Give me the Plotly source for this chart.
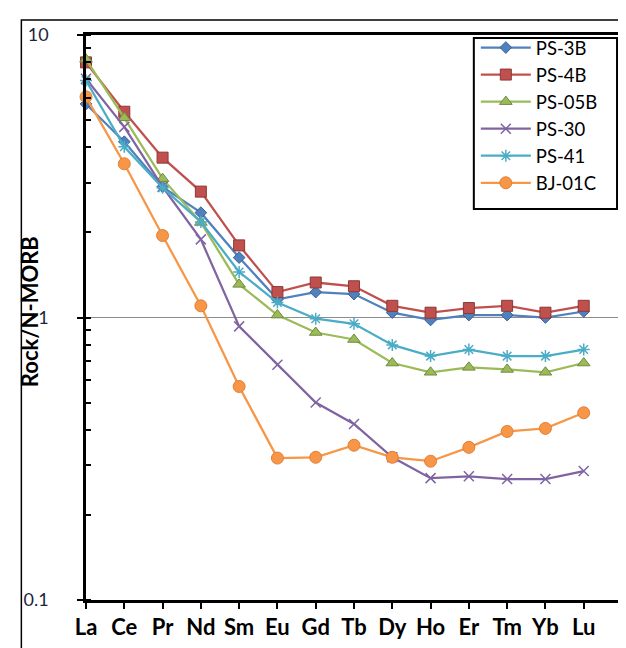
import plotly.graph_objects as go

elements = ["La", "Ce", "Pr", "Nd", "Sm", "Eu", "Gd", "Tb", "Dy", "Ho", "Er", "Tm", "Yb", "Lu"]

ps_3b = [5.7, 4.19, 2.9, 2.35, 1.63, 1.16, 1.23, 1.21, 1.04, 0.98, 1.02, 1.02, 1.0, 1.05]
ps_4b = [8.0, 5.35, 3.68, 2.79, 1.80, 1.23, 1.33, 1.29, 1.10, 1.04, 1.08, 1.10, 1.04, 1.10]
ps_05b = [8.2, 5.09, 3.1, 2.17, 1.31, 1.02, 0.885, 0.836, 0.69, 0.64, 0.666, 0.655, 0.64, 0.69]
ps_30 = [7.0, 4.73, 2.9, 1.89, 0.93, 0.68, 0.50, 0.42, 0.32, 0.27, 0.274, 0.268, 0.268, 0.286]
ps_41 = [6.9, 4.02, 2.88, 2.18, 1.45, 1.13, 0.99, 0.95, 0.80, 0.73, 0.77, 0.73, 0.73, 0.77]
bj_01c = [6.04, 3.5, 1.95, 1.1, 0.57, 0.318, 0.32, 0.353, 0.32, 0.31, 0.347, 0.395, 0.405, 0.46]

series = [
    ("PS-3B", ps_3b, "#4F81BD", "#3A6298", "diamond", 9),
    ("PS-4B", ps_4b, "#C0504D", "#8C3836", "square", 11),
    ("PS-05B", ps_05b, "#9BBB59", "#71893F", "triangle-up", 11),
    ("PS-30", ps_30, "#8064A2", "#8064A2", "x-thin-open", 10),
    ("PS-41", ps_41, "#4BACC6", "#4BACC6", "asterisk-open", 10),
    ("BJ-01C", bj_01c, "#F79646", "#E0803A", "circle", 12),
]

xpos = list(range(len(elements)))

# pixel helpers for the plot area (x: 78..617, y: 27..592)
def px_x(p):
    return (p - 78) / 539

def px_y(p):
    return (592 - p) / 565

fig = go.Figure()
for name, vals, col, edge, sym, size in series:
    fig.add_trace(go.Scatter(
        x=xpos, y=vals, name=name, mode="lines+markers",
        line=dict(color=col, width=2.25),
        marker=dict(symbol=sym, size=size, color=col,
                    line=dict(color=edge, width=1.5 if "open" in sym else 1)),
        cliponaxis=False,
    ))

fig.update_layout(
    width=626, height=648,
    margin=dict(l=78, r=9, t=27, b=56),
    paper_bgcolor="white", plot_bgcolor="white",
    font=dict(family="Lato, Liberation Sans, sans-serif", color="black"),
    showlegend=True,
    legend=dict(
        x=px_x(470), y=px_y(21), xanchor="left", yanchor="top",
        borderwidth=0, bgcolor="rgba(0,0,0,0)",
        font=dict(size=18.5, color="black"), itemwidth=50,
        tracegroupgap=0,
    ),
    xaxis=dict(
        range=[0, 14], tickmode="array", tickvals=list(range(15)),
        ticktext=elements + [""], ticks="outside", ticklen=6, tickwidth=2,
        tickcolor="black", showline=True, linecolor="black", linewidth=2.5,
        mirror=True, showgrid=False, zeroline=False,
        tickfont=dict(size=22, color="black", family="Lato, sans-serif", weight="bold"),
    ),
    yaxis=dict(
        type="log", range=[-1, 1], tickmode="array", tickvals=[0.1, 1, 10],
        ticktext=["0.1", "1", "10"], ticks="outside", ticklen=6, tickwidth=2,
        tickcolor="black", showline=True, linecolor="black", linewidth=2.5,
        mirror=True, showgrid=True, gridcolor="#8C8C8C", gridwidth=1.2,
        zeroline=False, ticklabelstandoff=25,
        tickfont=dict(size=18, color="#1F1F3F"),
        minor=dict(ticks="inside", ticklen=5, tickwidth=2, tickcolor="black",
                   dtick="D1", showgrid=False),
    ),
    annotations=[dict(
        text="<b>Rock/N-MORB</b>", textangle=-90, xref="paper", yref="paper",
        x=px_x(22), y=0.51, showarrow=False,
        font=dict(size=22, color="black"), xanchor="center", yanchor="middle",
    )],
    shapes=[
        dict(
            type="rect", xref="paper", yref="paper",
            x0=px_x(13), x1=1.2, y0=-0.3, y1=px_y(12),
            line=dict(color="black", width=1.5), fillcolor="rgba(0,0,0,0)",
            layer="below",
        ),
        dict(
            type="rect", xref="paper", yref="paper",
            x0=px_x(468), x1=px_x(612), y0=px_y(201), y1=px_y(30),
            line=dict(color="black", width=2), fillcolor="white",
            layer="above",
        ),
    ],
)

fig.write_html("out.html")
